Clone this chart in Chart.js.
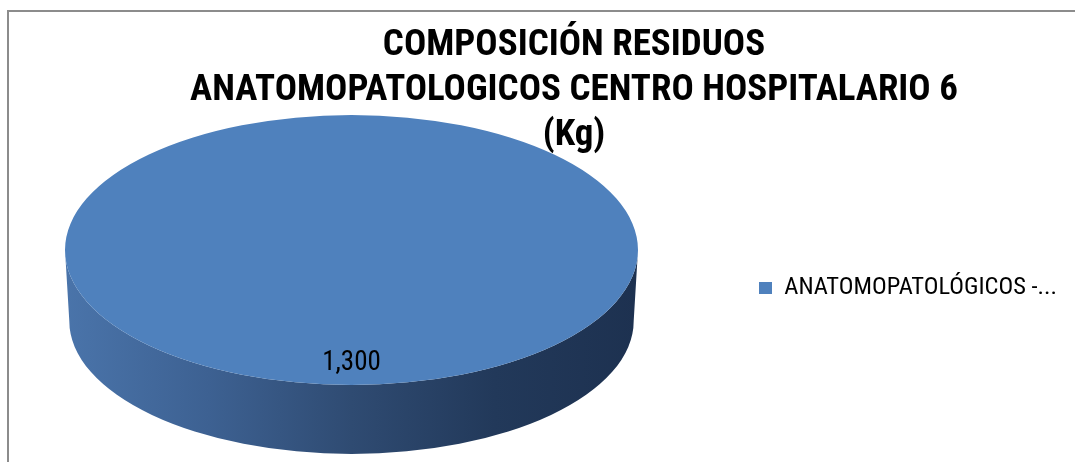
<!DOCTYPE html>
<html>
<head>
<meta charset="utf-8">
<script src="https://cdn.jsdelivr.net/npm/chart.js@4/dist/chart.umd.min.js"></script>
<style>
  html, body { margin: 0; padding: 0; background: #ffffff; }
  #wrap { position: relative; width: 1075px; height: 462px; overflow: hidden; }
  #frame { position: absolute; left: 7px; top: 10px; right: -10px; bottom: -10px;
           border-left: 2px solid #8c8c8c; border-top: 2px solid #8c8c8c; pointer-events: none; }
  canvas { position: absolute; left: 0; top: 0; }
</style>
</head>
<body>
<div id="wrap">
  <div id="frame"></div>
  <canvas id="c" width="1075" height="462"></canvas>
</div>
<script>
// ---- data ----
const titleLines = ['COMPOSICIÓN RESIDUOS', 'ANATOMOPATOLOGICOS CENTRO HOSPITALARIO 6', '(Kg)'];
const categories = ['ANATOMOPATOLÓGICOS -...'];
const values = [1300];
const sliceColors = ['#4F81BD'];

const NARROW = "'Roboto Condensed', 'Liberation Sans Narrow', 'DejaVu Sans Condensed', sans-serif";

// 3D tilt plugin: squashes the pie into an ellipse and draws the extruded side
const pie3d = {
  id: 'pie3d',
  beforeDatasetDraw(chart, args, opts) {
    const arc = chart.getDatasetMeta(args.index).data[0];
    if (!arc) return;
    const ctx = chart.ctx;
    const r = arc.outerRadius;
    const cx = opts.cx, cy = opts.cy;
    const rx = r, ry = r * opts.tilt;
    const d = opts.depth;
    const rx2 = rx * opts.shrink, ry2 = ry * opts.shrink;
    ctx.save();
    const g = ctx.createLinearGradient(cx - rx, 0, cx + rx, 0);
    g.addColorStop(0, '#4a74aa');
    g.addColorStop(0.25, '#3d6192');
    g.addColorStop(0.5, '#2f4b72');
    g.addColorStop(0.75, '#22395a');
    g.addColorStop(1, '#1d3150');
    ctx.beginPath();
    ctx.moveTo(cx + rx, cy);
    ctx.lineTo(cx + rx2, cy + d);
    ctx.ellipse(cx, cy + d, rx2, ry2, 0, 0, Math.PI, false);
    ctx.lineTo(cx - rx, cy);
    ctx.ellipse(cx, cy, rx, ry, 0, Math.PI, 0, true);
    ctx.closePath();
    ctx.fillStyle = g;
    ctx.fill();
    ctx.translate(cx, cy);
    ctx.scale(1, opts.tilt);
    ctx.translate(-arc.x, -arc.y);
  },
  afterDatasetDraw(chart, args, opts) {
    const ctx = chart.ctx;
    ctx.restore();
    const meta = chart.getDatasetMeta(args.index);
    const ds = chart.data.datasets[args.index];
    meta.data.forEach((el, i) => {
      const mid = (el.startAngle + el.endAngle) / 2;
      const rr = el.outerRadius * opts.labelPos;
      const x = opts.cx + Math.cos(mid) * rr;
      const y = opts.cy + Math.sin(mid) * rr * opts.tilt;
      ctx.save();
      ctx.font = '27px ' + NARROW;
      ctx.fillStyle = '#000000';
      ctx.textAlign = 'center';
      ctx.textBaseline = 'middle';
      ctx.fillText(ds.data[i].toLocaleString('en-US'), x, y);
      ctx.restore();
    });
  }
};

new Chart(document.getElementById('c'), {
  type: 'pie',
  data: {
    labels: categories,
    datasets: [{
      data: values,
      backgroundColor: sliceColors,
      borderWidth: 0,
      radius: 286.5,
      clip: false
    }]
  },
  plugins: [pie3d],
  options: {
    responsive: false,
    animation: false,
    events: [],
    layout: { padding: { left: 81, right: 8, top: 0, bottom: 44 } },
    plugins: {
      pie3d: { cx: 351.5, cy: 250, tilt: 0.471, depth: 71, shrink: 0.985, labelPos: 0.84 },
      tooltip: { enabled: false },
      title: {
        display: true,
        text: titleLines,
        color: '#000000',
        font: { family: NARROW, size: 37, weight: 'bold', lineHeight: 1.216 },
        padding: { top: 23, bottom: 0 }
      },
      legend: {
        display: true,
        position: 'right',
        fullSize: false,
        labels: {
          boxWidth: 13,
          boxHeight: 12,
          padding: 10,
          color: '#000000',
          font: { family: NARROW, size: 24.5 }
        }
      }
    }
  }
});
</script>
</body>
</html>
